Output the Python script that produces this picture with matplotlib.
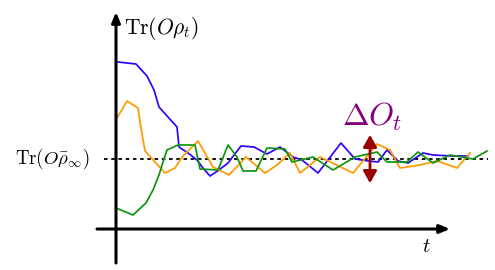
import matplotlib
matplotlib.use("Agg")
import matplotlib.pyplot as plt
from matplotlib.patches import FancyArrowPatch

plt.rcParams['mathtext.fontset'] = 'cm'

# time (relative to vertical axis) and observable value (relative to equilibrium)
t_blue = [2, 20, 31, 38, 43, 52, 61, 63, 72, 81, 87, 94, 103, 112, 125, 138, 151, 164, 177,
          186, 202, 225, 239, 253, 262, 271, 282, 292, 307, 317, 337, 352]
v_blue = [97, 95, 83, 69, 52, 42, 32, 12, 6, -1, -9, -17, -11, -4, 13, 12, 5, 12, 2,
          -1, -14, 16, 0, -2, -3, 9, -2, -4, 6, 4, 3, 3]

t_orange = [1, 11, 22, 24, 29, 39, 49, 59, 67, 82, 97, 113, 130, 149, 161, 174, 184,
            204, 237, 261, 274, 284, 304, 321, 341, 354]
v_orange = [41, 58, 51, 37, 8, -3, -14, -9, 3, 18, -8, -16, 2, -14, -6, 6, -14,
            2, -14, 15, 9, -9, -6, -2, -9, 6]

t_green = [0, 17, 30, 37, 43, 47, 51, 62, 79, 84, 102, 112, 121, 127, 140, 151, 169, 176,
           197, 217, 239, 261, 271, 291, 302, 317, 334, 357, 371]
v_green = [-49, -56, -44, -31, -16, -3, 9, 14, 14, -10, -11, 14, 2, -12, -12, 11, 10, -3,
           2, -11, 2, 7, -3, -3, 7, -4, 4, 0, 8]

colors = {"blue": "#3300ff", "orange": "#ff9900", "green": "#0d960d"}

fig = plt.figure(figsize=(4.95, 2.7), dpi=100)
ax = fig.add_axes([0, 0, 1, 1])
ax.set_xlim(-116, 379)
ax.set_ylim(-111, 159)
ax.axis('off')

# equilibrium dotted line
ax.plot([-12, 372], [0, 0], color='black', lw=1.3, ls=(0, (2, 2)), zorder=1)

ax.plot(t_blue, v_blue, color=colors["blue"], lw=1.25, zorder=3)
ax.plot(t_orange, v_orange, color=colors["orange"], lw=1.25, zorder=3)
ax.plot(t_green, v_green, color=colors["green"], lw=1.25, zorder=3)

# axes arrows
ax.annotate('', xy=(0, 147), xytext=(0, -104),
            arrowprops=dict(arrowstyle='-|>,head_length=0.6,head_width=0.25', lw=2.2, color='black',
                            shrinkA=0, shrinkB=0), zorder=4)
ax.annotate('', xy=(334, -70), xytext=(-19, -70),
            arrowprops=dict(arrowstyle='-|>,head_length=0.6,head_width=0.25', lw=2.2, color='black',
                            shrinkA=0, shrinkB=0), zorder=4)

# fluctuation arrow
arr = FancyArrowPatch((254, 27), (254, -27), arrowstyle='<|-|>,head_length=4.8,head_width=2.7',
                      color='#990000', lw=2.0, mutation_scale=1.5, zorder=5)
ax.add_patch(arr)

ax.text(8, 131, r'$\mathrm{Tr}(O\rho_t)$', fontsize=15.5, va='center', ha='left')
ax.text(-26, 0, r'$\mathrm{Tr}(O\bar{\rho}_\infty)$', fontsize=13.5, va='center', ha='right')
ax.text(310, -87, r'$t$', fontsize=15, va='center', ha='center')
ax.text(256, 42, r'$\Delta O_t$', fontsize=23, va='center', ha='center', color='#800080')

fig.savefig('out.png', dpi=100)
